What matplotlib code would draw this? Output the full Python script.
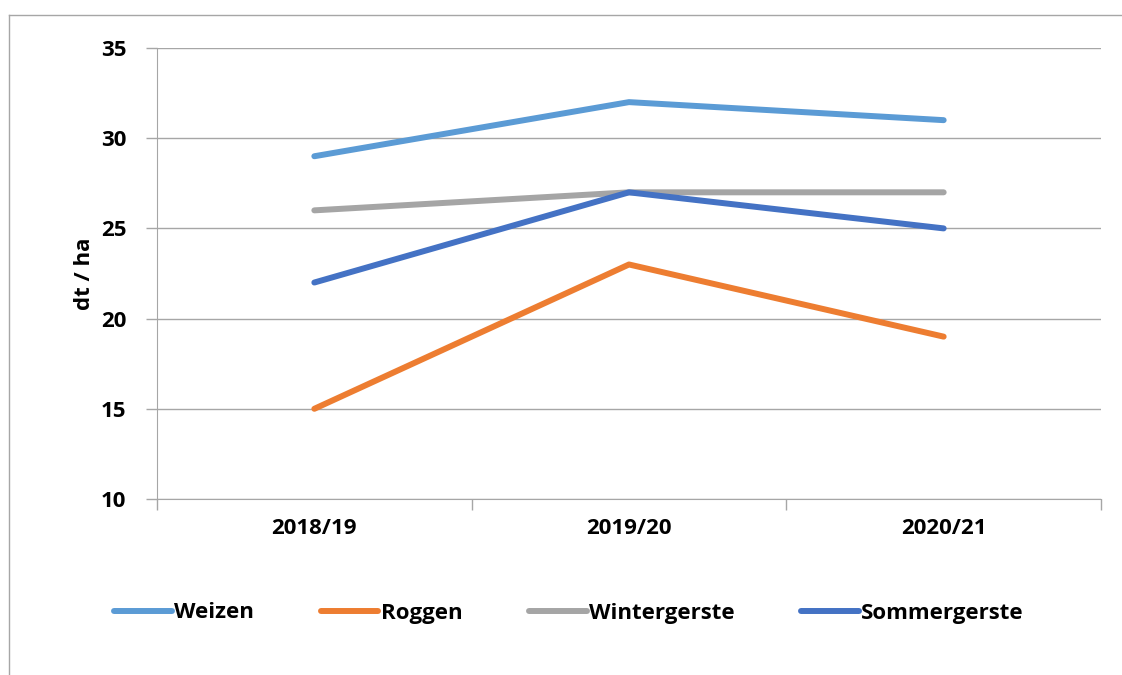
import matplotlib.pyplot as plt
from matplotlib.lines import Line2D

# Ertrag je Kulturart
jahre = ['2018/19', '2019/20', '2020/21']
weizen = [29, 32, 31]
roggen = [15, 23, 19]
wintergerste = [26, 27, 27]
sommergerste = [22, 27, 25]

namen = ['Weizen', 'Roggen', 'Wintergerste', 'Sommergerste']
farben = ['#5B9BD5', '#ED7D31', '#A5A5A5', '#4472C4']
reihen = [weizen, roggen, wintergerste, sommergerste]

plt.rcParams['font.family'] = ['Open Sans', 'DejaVu Sans']
plt.rcParams['font.weight'] = 'bold'
fs = 16

fig = plt.figure(figsize=(11.22, 6.75), dpi=100)
ax = fig.add_axes([157 / 1122, 1 - 499 / 675, (1101 - 157) / 1122, (499 - 48) / 675])

x = list(range(len(jahre)))
for name, farbe, werte in zip(namen, farben, reihen):
    ax.plot(x, werte, color=farbe, lw=4.3, label=name, solid_capstyle='round')

ax.set_xlim(-0.5, len(jahre) - 0.5)
ax.set_ylim(10, 35)
ax.set_yticks(range(10, 36, 5))
ax.set_xticks(x)
ax.set_xticklabels(jahre, fontsize=fs, fontweight='bold')
ax.set_xticks([i - 0.5 for i in range(len(jahre) + 1)], minor=True)
ax.tick_params(axis='x', which='major', length=0, pad=14)
ax.tick_params(axis='x', which='minor', length=8, color='#A6A6A6', width=1)
ax.tick_params(axis='y', length=8, color='#A6A6A6', width=1, labelsize=fs, pad=14)
for lab in ax.get_yticklabels():
    lab.set_fontweight('bold')
ax.grid(axis='y', color='#A6A6A6', lw=1)
ax.set_axisbelow(True)
for s in ['top', 'right']:
    ax.spines[s].set_visible(False)
for s in ['left', 'bottom']:
    ax.spines[s].set_color('#A6A6A6')
ax.set_ylabel('dt / ha', fontsize=fs, fontweight='bold', labelpad=4)

fig.legend(loc='center', bbox_to_anchor=(569 / 1122, 1 - 613 / 675), ncol=4, frameon=False,
           handlelength=2.6, handletextpad=0.1, columnspacing=3.0,
           prop={'weight': 'bold', 'size': fs})

# Rahmen um das Diagramm
fig.add_artist(Line2D([9 / 1122, 9 / 1122], [0, 1 - 15 / 675], transform=fig.transFigure, color='#A6A6A6', lw=1))
fig.add_artist(Line2D([9 / 1122, 1], [1 - 15 / 675, 1 - 15 / 675], transform=fig.transFigure, color='#A6A6A6', lw=1))

fig.savefig('out.png', dpi=100)
